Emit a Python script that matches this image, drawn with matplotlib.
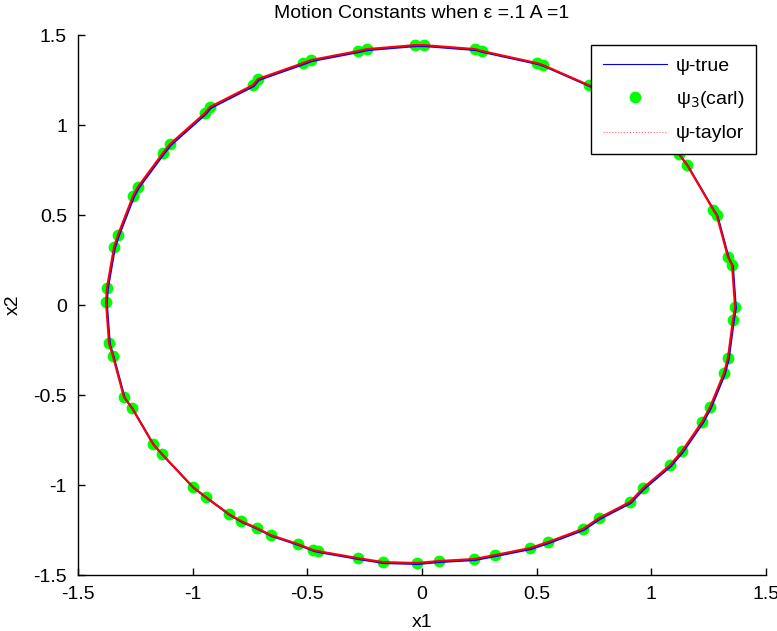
import matplotlib
matplotlib.use("Agg")
import matplotlib.pyplot as plt
from matplotlib.lines import Line2D
import numpy as np

plt.rcParams['font.family'] = ['Liberation Sans', 'DejaVu Sans']

x1 = [-0.031, 0.009, 0.231, 0.262, 0.502, 0.528,
      0.73, 0.76, 0.94, 0.97, 1.12, 1.156,
      1.27, 1.285, 1.334, 1.352, 1.365, 1.356, 1.334, 1.317,
      1.256, 1.221, 1.134, 1.082, 0.964, 0.907, 0.772, 0.702,
      0.549, 0.471, 0.318, 0.227, 0.074, -0.022, -0.170, -0.279,
      -0.454, -0.475, -0.541, -0.659, -0.72, -0.789, -0.842, -0.942,
      -0.999, -1.134, -1.173, -1.265, -1.30, -1.348, -1.365, -1.378,
      -1.374, -1.343, -1.326, -1.26, -1.239, -1.13, -1.099, -0.946,
      -0.925, -0.737, -0.715, -0.519, -0.484, -0.279, -0.240]
x2 = [1.444, 1.444, 1.422, 1.411, 1.344, 1.333,
      1.22, 1.20, 1.06, 1.03, 0.84, 0.778,
      0.53, 0.50, 0.267, 0.222, -0.011, -0.083, -0.294, -0.378,
      -0.567, -0.65, -0.811, -0.889, -1.017, -1.094, -1.183, -1.244,
      -1.317, -1.35, -1.389, -1.411, -1.422, -1.433, -1.428, -1.406,
      -1.367, -1.361, -1.328, -1.278, -1.239, -1.20, -1.161, -1.067,
      -1.011, -0.828, -0.772, -0.572, -0.511, -0.283, -0.211, 0.017,
      0.094, 0.322, 0.389, 0.606, 0.656, 0.844, 0.894, 1.067,
      1.10, 1.222, 1.256, 1.344, 1.361, 1.411, 1.422]

title = "Motion Constants when \u03b5 =.1 A =1"
labels = ["\u03c8-true", "\u03c8$_3$(carl)", "\u03c8-taylor"]
ticks = [-1.5, -1, -0.5, 0, 0.5, 1, 1.5]
tick_labels = ["-1.5", "-1", "-0.5", "0", "0.5", "1", "1.5"]

fig = plt.figure(figsize=(7.77, 6.31), dpi=100)
ax = fig.add_axes([0.1004, 0.0887, 0.8854, 0.8558])

lx = x1 + [x1[0]]
ly = x2 + [x2[0]]
ax.plot(x1, x2, 'o', color=(0, 1, 0), markersize=8.5, markeredgewidth=0, zorder=2)
ax.plot(np.array(lx) + 0.004, np.array(ly) - 0.006, '-', color='#0000ff', lw=1.4, zorder=3)
ax.plot(lx, ly, '-', color='#ff0000', lw=1.5, zorder=4)

ax.set_xlim(-1.5, 1.5)
ax.set_ylim(-1.5, 1.5)
ax.set_xticks(ticks)
ax.set_xticklabels(tick_labels)
ax.set_yticks(ticks)
ax.set_yticklabels(tick_labels)
ax.tick_params(direction='in', length=5, width=1, labelsize=14, pad=8)
for s in ['top', 'right']:
    ax.spines[s].set_visible(False)
for s in ['left', 'bottom']:
    ax.spines[s].set_linewidth(1.0)

ax.set_title(title, fontsize=14, pad=12)
ax.set_xlabel("x1", fontsize=14, labelpad=8)
ax.set_ylabel("x2", fontsize=14, labelpad=8)

handles = [Line2D([], [], color='#0000ff', lw=0.8),
           Line2D([], [], ls='none', marker='o', color=(0, 1, 0), markersize=8.5, markeredgewidth=0),
           Line2D([], [], color='#ff6666', lw=0.8, ls=':')]
leg = ax.legend(handles, labels, loc='upper right', bbox_to_anchor=(0.9855, 0.981),
                fontsize=14, frameon=True, fancybox=False, framealpha=1,
                edgecolor='black', borderpad=0.6, handlelength=3.3, labelspacing=0.75,
                handletextpad=0.45, borderaxespad=0)
leg.get_frame().set_linewidth(1.0)
leg.set_zorder(10)

fig.savefig("out.png", dpi=100, facecolor='white')
